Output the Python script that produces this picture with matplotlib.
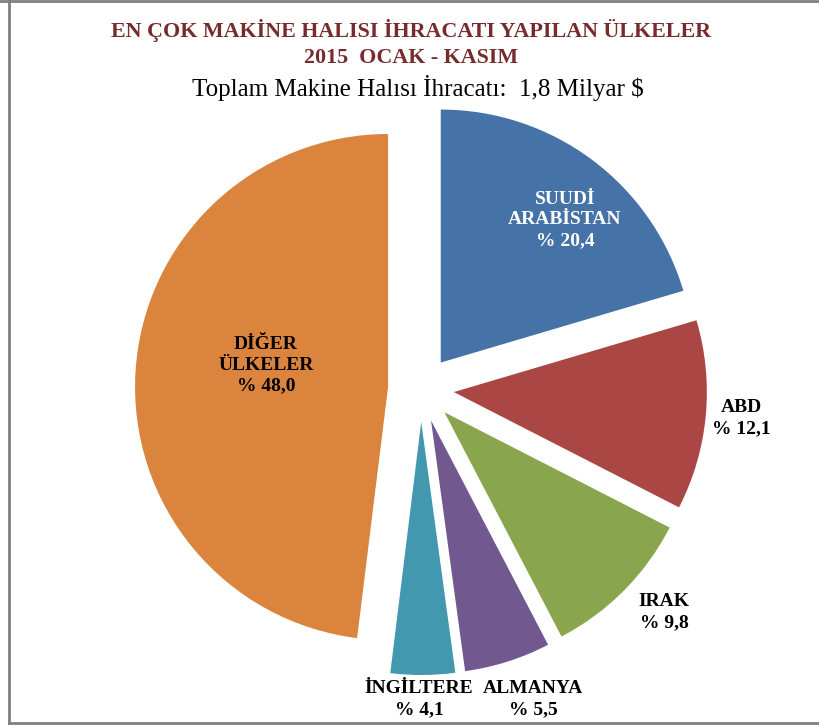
#!/usr/bin/env python3
"""Makine halisi ihracati: en cok ihracat yapilan ulkeler (2015 Ocak-Kasim)."""

import matplotlib
matplotlib.use("Agg")
import matplotlib.pyplot as plt
from matplotlib.lines import Line2D

countries = ["SUUDİ\nARABİSTAN", "ABD", "IRAK", "ALMANYA", "İNGİLTERE", "DİĞER\nÜLKELER"]
shares = [20.4, 12.1, 9.8, 5.5, 4.1, 48.0]
colors = ["#4572A7", "#AA4643", "#89A54E", "#71588F", "#4198AF", "#DB843D"]

# label anchor points in pixel coordinates (x, y from top)
label_pos = [(565, 220), (741, 418), (664, 612), (533, 699), (419, 699), (266, 365)]
label_color = ["white", "black", "black", "black", "black", "black"]

W, H = 819, 726
fig = plt.figure(figsize=(W / 100, H / 100), dpi=100)
ax = fig.add_axes([0, 0, 1, 1])

cx, cy, radius = 421, H - 389, 253
ax.pie(shares, colors=colors, startangle=90, counterclock=False,
       explode=[33] * len(shares), radius=radius, center=(cx, cy),
       wedgeprops={"linewidth": 0}, frame=False)
ax.set_xlim(0, W)
ax.set_ylim(0, H)
ax.set_aspect("equal")
ax.axis("off")

serif = ["Liberation Serif", "DejaVu Serif"]
for name, value, (x, y), c in zip(countries, shares, label_pos, label_color):
    text = f"{name}\n% {value:.1f}".replace(".", ",")
    ax.text(x, H - y, text, ha="center", va="center", fontsize=14,
            fontweight="bold", color=c, family=serif, linespacing=1.3)

fig.text(0.502, 1 - 30 / H, "EN ÇOK MAKİNE HALISI İHRACATI YAPILAN ÜLKELER",
         ha="center", va="center", fontsize=15.8, fontweight="bold",
         color="#772B2D", family=serif)
fig.text(0.502, 1 - 58 / H, "2015  OCAK - KASIM", ha="center", va="center",
         fontsize=15.8, fontweight="bold", color="#772B2D", family=serif)
fig.text(0.51, 1 - 88 / H, "Toplam Makine Halısı İhracatı:  1,8 Milyar $",
         ha="center", va="center", fontsize=18, color="black", family=serif)

# border on left, top and bottom
border = dict(color="#808080", linewidth=2, transform=fig.transFigure)
fig.add_artist(Line2D([9 / W, 9 / W], [1 - 722.5 / H, 1], **border))
fig.add_artist(Line2D([0, 1], [1 - 1 / H, 1 - 1 / H], **border))
fig.add_artist(Line2D([9 / W, 1], [1 - 722.5 / H, 1 - 722.5 / H], **border))

fig.savefig("out.png", dpi=100)
